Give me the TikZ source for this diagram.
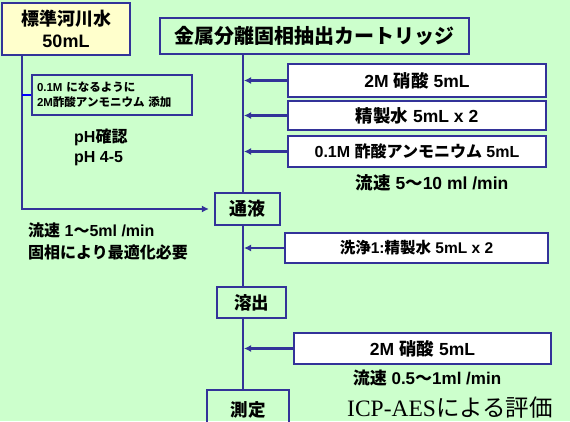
\documentclass[tikz,border=0pt]{standalone}
\usepackage{fontspec}
\setmainfont{Liberation Sans}
\newfontfamily\jp{Noto Sans CJK JP}
\newfontfamily\timesf{Liberation Serif}
\usetikzlibrary{arrows.meta}
\definecolor{bg}{RGB}{204,255,204}
\definecolor{ln}{RGB}{51,51,153}
\definecolor{cream}{RGB}{255,255,204}
\newcommand\J[1]{{\jp #1}}
\newcommand\fs[1]{\fontsize{#1}{#1}\selectfont}
\begin{document}
\begin{tikzpicture}[x=1pt,y=-1pt,
  box/.style={draw=ln,line width=2.2pt,inner sep=0pt,align=center},
  wbox/.style={box,fill=white,minimum width=258pt},
  conn/.style={draw=ln,line width=2.3pt},
  arr/.style={conn,-{Latex[length=7pt,width=7pt]}},
  lbl/.style={inner sep=0pt,align=left}]
\fill[bg] (0,0) rectangle (570,421);
\useasboundingbox (0,0) rectangle (570,421);
\clip (0,0) rectangle (570,421);
\coordinate (axis) at (243,0);
\coordinate (lx) at (22,0);
% boxes
\node[box,fill=cream,minimum width=128pt,minimum height=52pt,font=\bfseries\fontsize{18}{22}\selectfont] (src) at (66,29) {\J{標準河川水}\\50mL};
\node[box,minimum width=160pt,minimum height=40pt,font=\bfseries\fs{11.5},align=left,text width=150pt] (add) at (112,95) {0.1M \J{になるように}\\[3pt]2M\J{酢酸アンモニウム 添加}};
\node[box,minimum width=309pt,minimum height=36pt,font=\bfseries\fs{20}] (cart) at (314.5,36) {\J{金属分離固相抽出カートリッジ}};
\node[wbox,minimum height=33pt,font=\bfseries\fs{17.5}] (r1) at (417,80.5) {2M \J{硝酸} 5mL};
\node[wbox,minimum height=29pt,font=\bfseries\fs{17.5}] (r2) at (417,115.5) {\J{精製水} 5mL x 2};
\node[wbox,minimum height=31pt,font=\bfseries\fs{16}] (r3) at (417,151.5) {0.1M \J{酢酸アンモニウム} 5mL};
\node[box,minimum width=65pt,minimum height=32pt,font=\bfseries\fs{18}] (tsu) at (247.5,209) {\J{通液}};
\node[wbox,minimum width=263pt,minimum height=30pt,font=\bfseries\fs{15.5}] (wash) at (416.5,248) {\J{洗浄}1:\J{精製水} 5mL x 2};
\node[box,minimum width=69pt,minimum height=31pt,font=\bfseries\fs{17.5}] (elu) at (251.5,302.5) {\J{溶出}};
\node[wbox,minimum width=257pt,minimum height=31pt,font=\bfseries\fs{17.5}] (r4) at (422.5,348.5) {2M \J{硝酸} 5mL};
\node[box,minimum width=82pt,minimum height=40pt,font=\bfseries\fs{17.5},text depth=0pt] (meas) at (248,410) {\raisebox{1pt}{\J{測定}}};
% texts
\node[lbl,anchor=west,font=\bfseries\fontsize{16}{20}\selectfont] (ph) at (74,147) {pH\J{確認}\\pH 4-5};
\node[lbl,anchor=west,font=\bfseries\fontsize{16}{22}\selectfont] (fl1) at (28,241) {\J{流速} 1\J{〜}5ml /min\\\J{固相により最適化必要}};
\node[lbl,font=\bfseries\fs{17.5}] (fl2) at (432,183) {\J{流速} 5\J{〜}10 ml /min};
\node[lbl,font=\bfseries\fs{17}] (fl3) at (427,378) {\J{流速} 0.5\J{〜}1ml /min};
\node[lbl,font=\fs{23.5}] (icp) at (450,408) {\timesf ICP-AES\J{による評価}};
% connectors
\draw[conn] (cart.south -| axis) -- (tsu.north -| axis);
\draw[conn] (tsu.south -| axis) -- (elu.north -| axis);
\draw[conn] (elu.south -| axis) -- (meas.north -| axis);
\draw[arr] (r1.west) -- ([xshift=1pt]r1.west -| axis);
\draw[arr] (r2.west) -- ([xshift=1pt]r2.west -| axis);
\draw[arr] (r3.west) -- ([xshift=1pt]r3.west -| axis);
\draw[arr] (wash.west) -- ([xshift=1pt]wash.west -| axis);
\draw[arr] (r4.west) -- ([xshift=1pt]r4.west -| axis);
\draw[arr,shorten >=5pt] (src.south -| lx) -- (lx |- tsu.west) -- (tsu.west);
\draw[draw=blue,line width=1.5pt] (lx |- add.west) -- (add.west);
\end{tikzpicture}
\end{document}
